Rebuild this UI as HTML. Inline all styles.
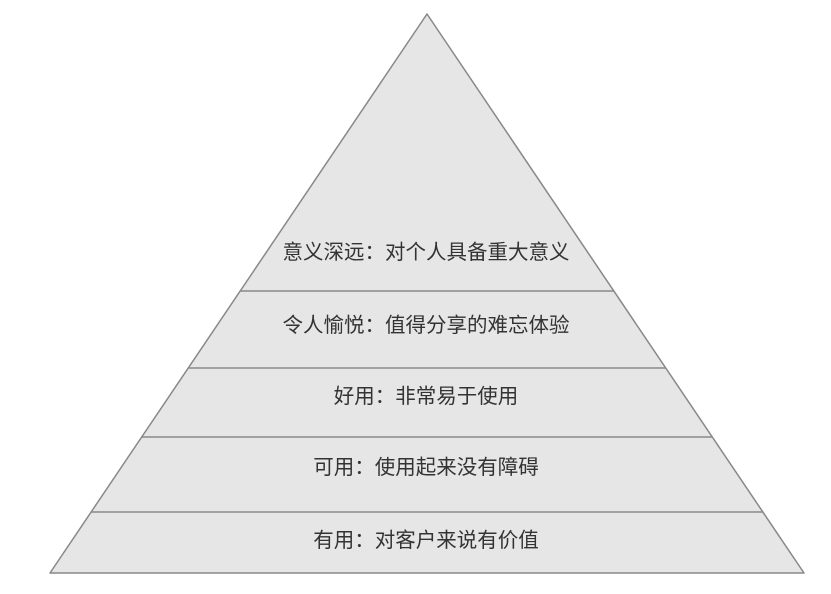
<!DOCTYPE html>
<html><head><meta charset="utf-8"><style>
html,body{margin:0;padding:0;background:#fff;}
svg{display:block;}
text{font-family:"Liberation Sans","Noto Sans CJK SC",sans-serif;font-size:20.5px;fill:#333;}
</style></head><body>
<svg width="831" height="594" viewBox="0 0 831 594">
<polygon points="427,14 50,573 804,573" fill="#e6e6e6" stroke="#888" stroke-width="1.5" stroke-linejoin="round"/>
<g stroke="#888" stroke-width="1.5">
<line x1="240" y1="291" x2="614" y2="291"/>
<line x1="188" y1="368" x2="666" y2="368"/>
<line x1="142" y1="437" x2="712" y2="437"/>
<line x1="91" y1="512" x2="763" y2="512"/>
</g>
<g text-anchor="middle">
<text x="426" y="259">意义深远：对个人具备重大意义</text>
<text x="426" y="332">令人愉悦：值得分享的难忘体验</text>
<text x="426" y="403">好用：非常易于使用</text>
<text x="426" y="474">可用：使用起来没有障碍</text>
<text x="426" y="547">有用：对客户来说有价值</text>
</g>
</svg>
</body></html>
